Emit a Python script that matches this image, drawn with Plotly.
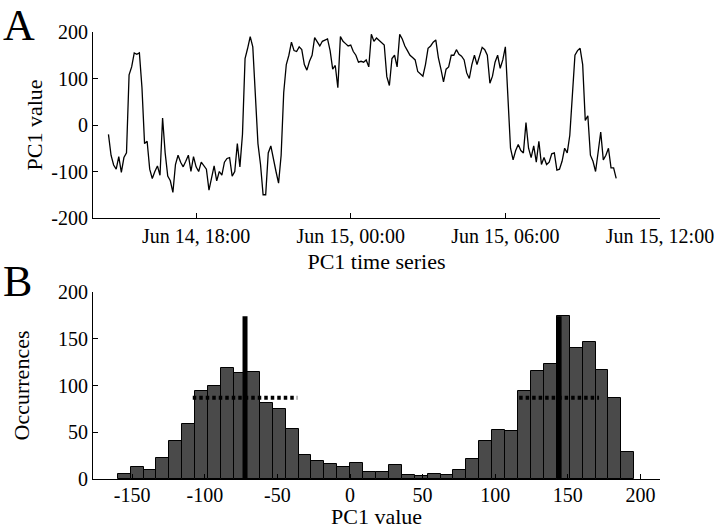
import pandas as pd
import plotly.graph_objects as go
from plotly.subplots import make_subplots

# ---------------- data ----------------
# Panel A: PC1 time series, sampled every 6 minutes from Jun 14 14:36
series_start = "2014-06-14 14:36"
series_step = "6min"
pc1_values = [
    -20, -65, -86, -95, -68, -102, -70, -60, 108, 125,
    155, 152, 155, 80, -40, -35, -95, -115, -100, -88,
    -108, 15, -60, -110, -120, -145, -85, -65, -80, -90,
    -78, -65, -100, -68, -90, -100, -80, -88, -95, -140,
    -112, -88, -120, -100, -108, -80, -72, -70, -110, -100,
    -40, -90, -20, 143, 165, 190, 168, 72, -40, -85,
    -150, -150, -60, -45, -75, -100, -125, -65, 70, 130,
    150, 178, 160, 158, 168, 162, 130, 118, 137, 150,
    188, 178, 170, 180, 183, 185, 160, 120, 128, 80,
    190, 180, 175, 170, 172, 158, 150, 135, 137, 135,
    140, 125, 195, 180, 187, 182, 178, 172, 104, 85,
    143, 150, 125, 195, 185, 170, 160, 150, 145, 140,
    115, 110, 105, 130, 165, 170, 178, 183, 145, 120,
    93, 120, 125, 150, 150, 162, 152, 148, 140, 112,
    100, 130, 150, 130, 150, 167, 162, 150, 90, 105,
    135, 150, 122, 140, 168, 50, -50, -75, -55, -42,
    -55, -60, 5, -50, -70, -45, -80, -35, -85, -70,
    -85, -80, -62, -60, -97, -95, -78, -50, -60, -22,
    70, 150, 160, 165, 130, 10, 20, -65, -78, -100,
    -58, -15, -75, -65, -50, -92, -92, -115,
]
time_range = ["2014-06-14 14:00", "2014-06-15 12:00"]
time_tickvals = ["2014-06-14 18:00", "2014-06-15 00:00", "2014-06-15 06:00", "2014-06-15 12:00"]
time_ticktext = ["Jun 14, 18:00", "Jun 15, 00:00", "Jun 15, 06:00", "Jun 15, 12:00"]
pc1_ticks = [-200, -100, 0, 100, 200]
pc1_ticktext = ["-200", "-100", "0", "100", "200"]

# Panel B: histogram of PC1 values (40 bins)
bin_first_edge = -160.0
bin_width = 8.895
counts = [
    5, 13, 10, 23, 41, 59, 94, 100, 119, 113,
    114, 81, 75, 53, 26, 19, 16, 13, 17, 7,
    8, 15, 4, 3, 5, 4, 10, 21, 41, 52,
    51, 94, 115, 123, 174, 140, 147, 117, 87, 29,
]
peak_centers = [-72.3, 144.0]
peak_heights = [174, 174]
half_widths = [36.0, 27.5]
hist_xticks = [-150, -100, -50, 0, 50, 100, 150, 200]
hist_xticktext = ["-150", "-100", "-50", "0", "50", "100", "150", "200"]
hist_yticks = [0, 50, 100, 150, 200]
hist_xrange = [-177, 213.5]

# ---------------- figure ----------------
FONT = "Liberation Serif, Times New Roman, serif"
TICK = 20
TITLE = 22
times = pd.date_range(series_start, periods=len(pc1_values), freq=series_step)
centers = [bin_first_edge + bin_width * (i + 0.5) for i in range(len(counts))]

fig = make_subplots(rows=2, cols=1, vertical_spacing=0.1)

fig.add_trace(go.Scatter(x=times, y=pc1_values, mode="lines",
                         line=dict(color="black", width=1.3), showlegend=False),
              row=1, col=1)

fig.add_trace(go.Bar(x=centers, y=counts, width=bin_width,
                     marker=dict(color="#4a4a4a", line=dict(color="black", width=1)),
                     showlegend=False), row=2, col=1)

for c, h, hw in zip(peak_centers, peak_heights, half_widths):
    fig.add_trace(go.Scatter(x=[c, c], y=[0, h], mode="lines",
                             line=dict(color="black", width=5), showlegend=False),
                  row=2, col=1)
    fig.add_trace(go.Scatter(x=[c - hw, c + hw], y=[h / 2, h / 2], mode="lines",
                             line=dict(color="black", width=4, dash="3.5px,3px"),
                             showlegend=False), row=2, col=1)

W, H = 714, 529
ml, mr, mt, mb = 93, 714 - 660, 32, 529 - 479
ph = H - mt - mb
pw = W - ml - mr
axis_common = dict(showline=True, linecolor="black", linewidth=1, ticks="inside",
                   ticklen=5, tickcolor="black", showgrid=False, zeroline=False,
                   tickfont=dict(family=FONT, size=TICK, color="black"),
                   mirror=False, automargin=False, ticklabeloverflow="allow")

fig.update_xaxes(**axis_common)
fig.update_yaxes(**axis_common)

fig.update_layout(
    width=W, height=H,
    margin=dict(l=ml, r=mr, t=mt, b=mb),
    paper_bgcolor="white", plot_bgcolor="white",
    font=dict(family=FONT, size=TICK, color="black"),
    bargap=0,
    xaxis=dict(domain=[0, 1], type="date", range=time_range, tickvals=time_tickvals,
               ticktext=time_ticktext,
               title=dict(text="PC1 time series", font=dict(family=FONT, size=TITLE), standoff=7)),
    yaxis=dict(domain=[(479 - 218) / ph, 1], range=[-200, 200], tickvals=pc1_ticks,
               ticktext=pc1_ticktext,
               title=dict(text="PC1 value", font=dict(family=FONT, size=TITLE), standoff=2)),
    xaxis2=dict(domain=[0, 1], range=hist_xrange, tickvals=hist_xticks,
                ticktext=hist_xticktext, ticklabelstandoff=-2,
                title=dict(text="PC1 value", font=dict(family=FONT, size=TITLE), standoff=3)),
    yaxis2=dict(domain=[0, (479 - 292) / ph], range=[0, 200], tickvals=hist_yticks,
                title=dict(text="Occurrences", font=dict(family=FONT, size=TITLE), standoff=22)),
)

# panel letters, positioned from page pixel coordinates of the box top-left
for letter, (px, py) in [("A", (2, 0)), ("B", (2, 256))]:
    fig.add_annotation(text=letter, x=(px - ml) / pw, y=(H - mb - py) / ph,
                       xref="paper", yref="paper", xanchor="left", yanchor="top",
                       showarrow=False, borderpad=0,
                       font=dict(family=FONT, size=44, color="black"))

fig.write_html("out.html", config={"displayModeBar": False},
               post_script="document.body.style.margin='0';document.body.style.padding='0';")
